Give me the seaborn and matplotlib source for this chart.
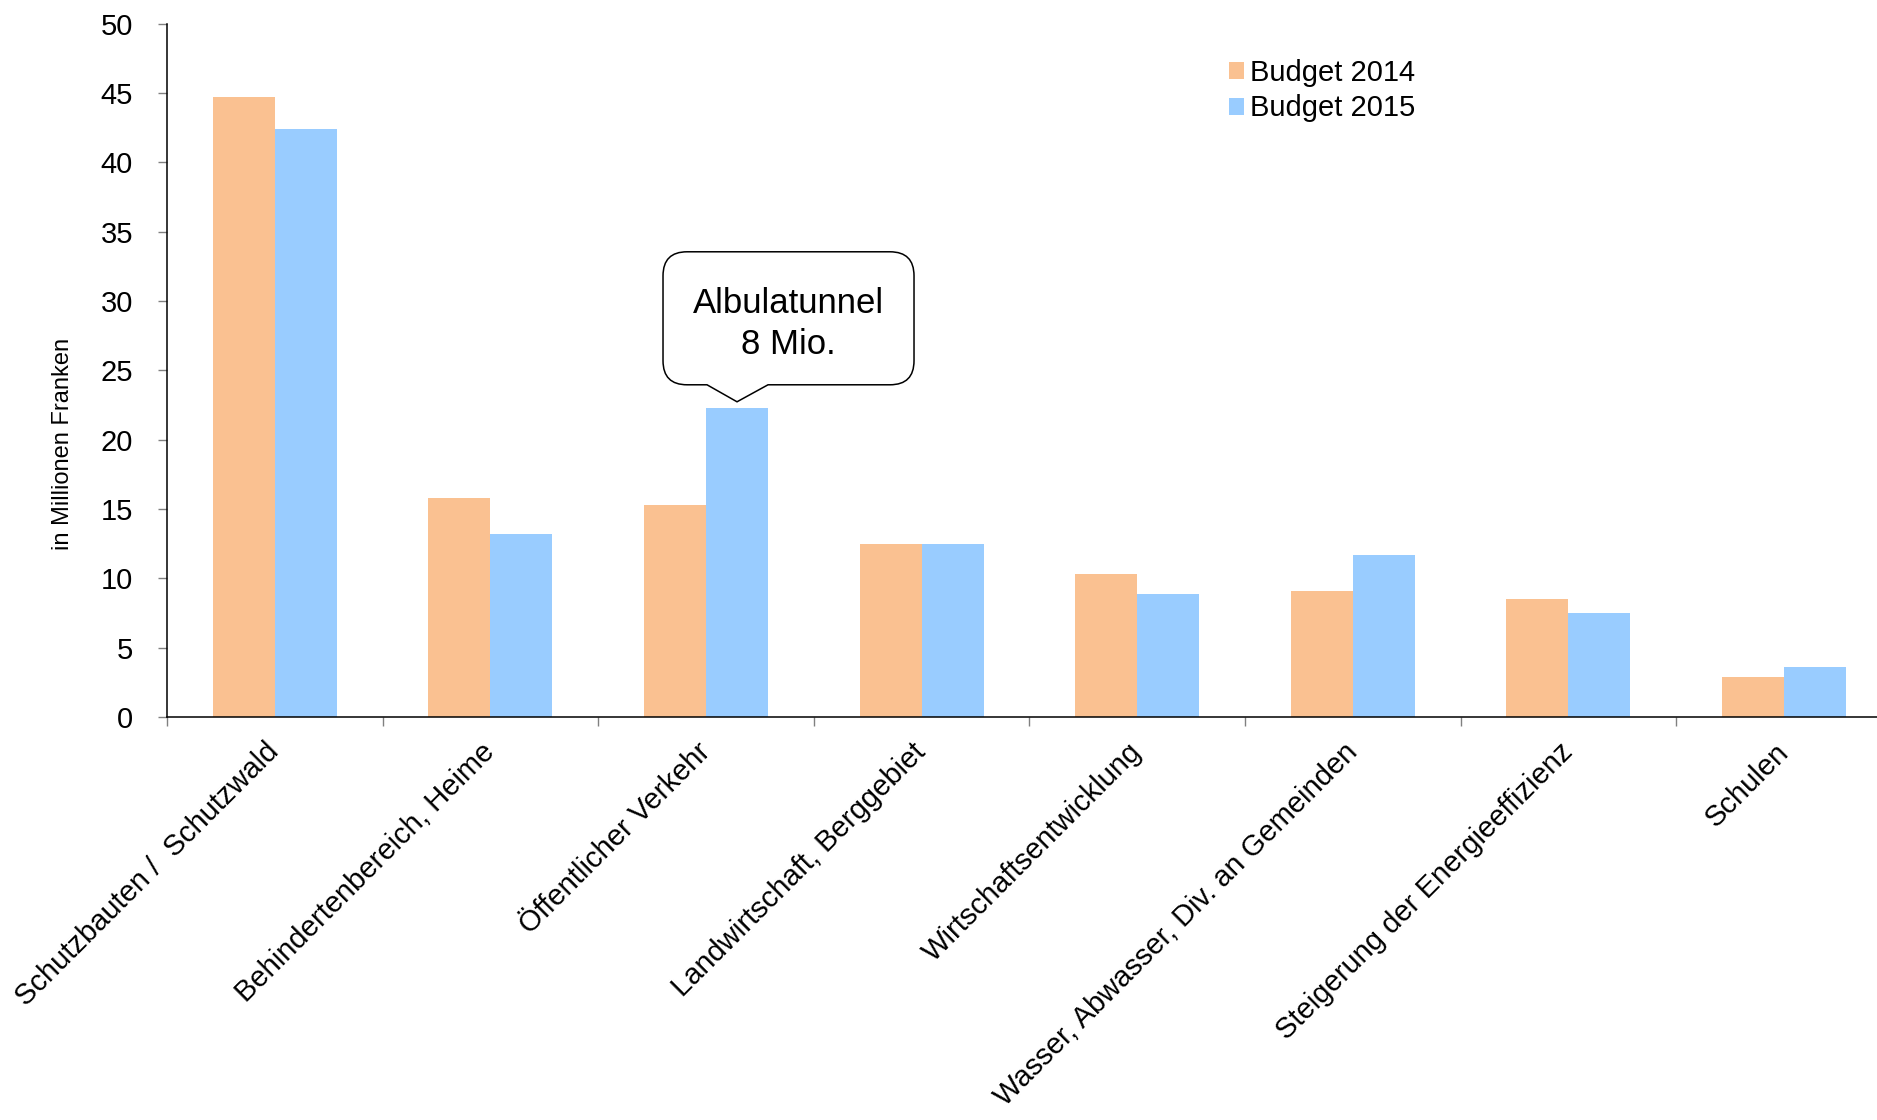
import numpy as np
import pandas as pd
import matplotlib
matplotlib.use("Agg")
import matplotlib.pyplot as plt
import seaborn as sns
from matplotlib.path import Path
from matplotlib.patches import PathPatch
from matplotlib.transforms import IdentityTransform
from matplotlib.ticker import FixedLocator

# ---------------- data ----------------
categories = [
    "Schutzbauten /  Schutzwald",
    "Behindertenbereich, Heime",
    "Öffentlicher Verkehr",
    "Landwirtschaft, Berggebiet",
    "Wirtschaftsentwicklung",
    "Wasser, Abwasser, Div. an Gemeinden",
    "Steigerung der Energieeffizienz",
    "Schulen",
]
budget_2014 = [44.7, 15.8, 15.3, 12.5, 10.3, 9.1, 8.5, 2.9]
budget_2015 = [42.4, 13.2, 22.3, 12.5, 8.9, 11.7, 7.5, 3.6]
series_names = ["Budget 2014", "Budget 2015"]
series_colors = ["#FAC191", "#99CCFF"]
y_ticks = list(range(0, 55, 5))
y_label = "in Millionen Franken"
callout_category = "Öffentlicher Verkehr"
callout_text = "Albulatunnel\n8 Mio."

# ---------------- style ----------------
sns.set_style("white")
plt.rcParams["font.family"] = ["Liberation Sans", "DejaVu Sans"]
plt.rcParams["text.color"] = "black"
plt.rcParams["axes.labelcolor"] = "black"
plt.rcParams["xtick.labelcolor"] = "black"
plt.rcParams["ytick.labelcolor"] = "black"

df = pd.DataFrame({
    "Bereich": categories * 2,
    "Budget": [series_names[0]] * len(categories) + [series_names[1]] * len(categories),
    "Wert": budget_2014 + budget_2015,
})

W, H = 1877, 1120
fig = plt.figure(figsize=(W / 100, H / 100), dpi=100)
ax = fig.add_axes([167 / W, 1 - 717 / H, 1 - 167 / W, (717 - 23.7) / H])

sns.barplot(data=df, x="Bereich", y="Wert", hue="Budget", order=categories,
            hue_order=series_names, palette=series_colors, width=0.575,
            saturation=1, linewidth=0, errorbar=None, ax=ax)

ax.set_xlim(-0.5, 7.431)
ax.set_ylim(0, 50)

for s in ["top", "right"]:
    ax.spines[s].set_visible(False)
for s in ["left", "bottom"]:
    ax.spines[s].set_color("black")
    ax.spines[s].set_linewidth(1.1)

ax.set_yticks(y_ticks)
ax.tick_params(axis="y", left=True, length=6.5, width=1, color="#808080",
               pad=18, labelsize=21, labelcolor="black")

ax.set_xticks(range(len(categories)))
ax.set_xticklabels(categories, rotation=45, ha="right", va="center",
                   rotation_mode="anchor", fontsize=21, color="black")
ax.tick_params(axis="x", which="major", bottom=False, length=0, pad=22)
ax.xaxis.set_minor_locator(FixedLocator(np.arange(-0.5, len(categories) + 0.5, 1)))
ax.tick_params(axis="x", which="minor", bottom=True, length=6.5, width=1, color="#808080")

ax.set_xlabel("")
ax.set_ylabel(y_label, fontsize=17, color="black")
ax.yaxis.set_label_coords(-0.0544, 0.3945)

# legend
old = ax.get_legend()
handles = old.legend_handles
labels = [t.get_text() for t in old.get_texts()]
old.remove()
leg = ax.legend(handles, labels, loc="upper left", bbox_to_anchor=(0.621, 0.949),
                frameon=False, fontsize=21, handlelength=0.52, handleheight=0.52,
                handletextpad=0.2, labelspacing=0.25, borderpad=0, borderaxespad=0)
for t in leg.get_texts():
    t.set_color("black")

# callout
bar = ax.containers[1][categories.index(callout_category)]
xc = bar.get_x() + bar.get_width() / 2
yh = bar.get_height()
tx, ty = ax.transData.transform((xc, yh))
ty += 6
L, R = tx - 74, tx + 177
B, T = ty + 17, ty + 150
r = 24
verts = [
    (tx - 30, B), (tx, ty), (tx + 31, B),
    (R - r, B), (R, B), (R, B + r),
    (R, T - r), (R, T), (R - r, T),
    (L + r, T), (L, T), (L, T - r),
    (L, B + r), (L, B), (L + r, B),
    (tx - 30, B),
]
codes = [Path.MOVETO, Path.LINETO, Path.LINETO,
         Path.LINETO, Path.CURVE3, Path.CURVE3,
         Path.LINETO, Path.CURVE3, Path.CURVE3,
         Path.LINETO, Path.CURVE3, Path.CURVE3,
         Path.LINETO, Path.CURVE3, Path.CURVE3,
         Path.CLOSEPOLY]
patch = PathPatch(Path(verts, codes), transform=IdentityTransform(),
                  facecolor="white", edgecolor="black", lw=1.1, clip_on=False,
                  zorder=5)
ax.add_artist(patch)
ax.annotate(callout_text, xy=(xc, yh), xytext=(51, 84), textcoords="offset pixels",
            ha="center", va="center", fontsize=25, linespacing=1.3, zorder=10,
            color="black", annotation_clip=False)

fig.savefig("out.png", dpi=100)
